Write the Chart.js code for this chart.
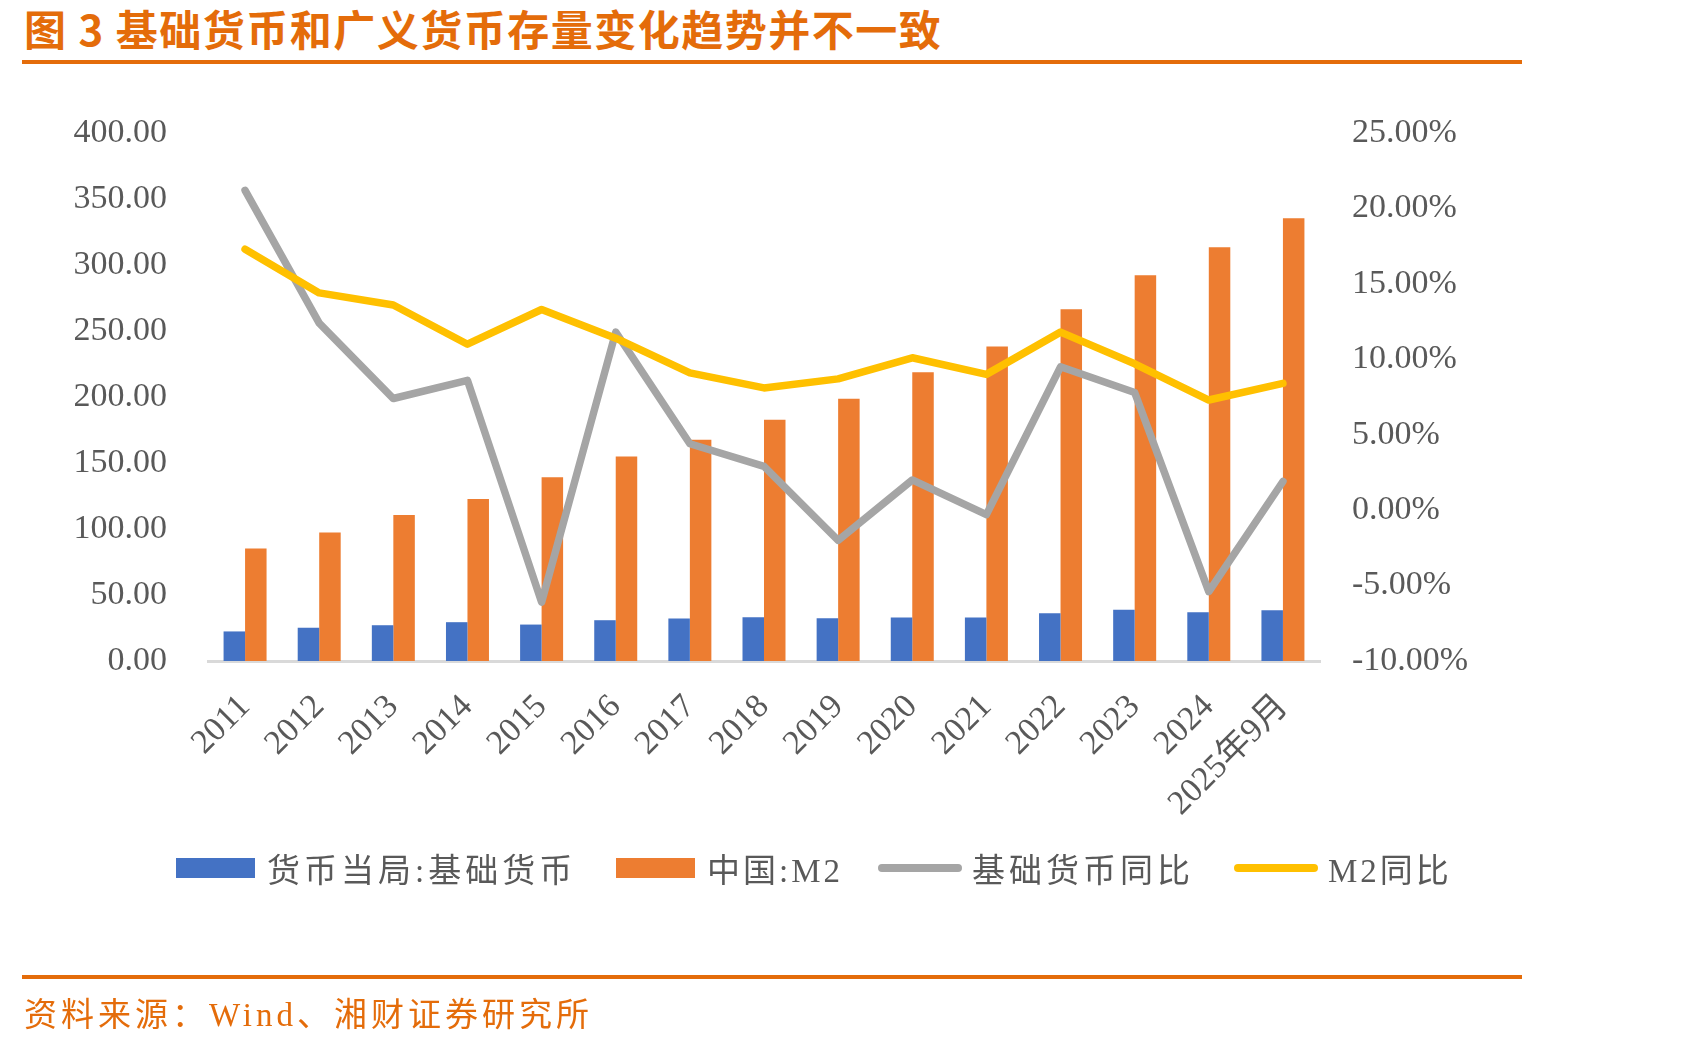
<!DOCTYPE html>
<html>
<head>
<meta charset="utf-8">
<script src="https://cdn.jsdelivr.net/npm/chart.js@4.4.1/dist/chart.umd.min.js"></script>
<style>
  html, body { margin:0; padding:0; background:#fff; }
  body { width:1689px; height:1043px; position:relative; overflow:hidden; font-family:"Liberation Serif","Noto Sans CJK SC",serif; }
  #title { position:absolute; left:24px; top:-3px; font-family:"Noto Sans CJK SC",sans-serif; font-weight:700; font-size:42px; letter-spacing:1.5px; color:#E46C0A; white-space:nowrap; }
  .rule { position:absolute; left:22px; width:1500px; height:4px; background:#E46C0A; }
  #source { position:absolute; left:24px; top:988px; font-family:"Liberation Serif","Noto Sans CJK SC",serif; font-size:33px; letter-spacing:4px; color:#E46C0A; white-space:nowrap; }
  #wrap { position:absolute; left:0; top:0; width:1689px; height:1043px; }
  .leg { position:absolute; top:851px; height:34px; display:flex; align-items:center; font-family:"Liberation Serif","Noto Sans CJK SC",serif; font-size:33px; letter-spacing:4px; color:#595959; white-space:nowrap; }
  .box { width:79px; height:20px; margin-right:12px; }
  .ln { width:84px; height:8px; border-radius:4px; margin-right:10px; }
</style>
</head>
<body>
<div id="title">图 3 基础货币和广义货币存量变化趋势并不一致</div>
<div class="rule" style="top:60px"></div>
<div id="wrap"><canvas id="c" width="1689" height="1043"></canvas></div>
<div class="leg" style="left:176px"><div class="box" style="background:#4472C4"></div><span id="l1">货币当局:基础货币</span></div>
<div class="leg" style="left:616px"><div class="box" style="background:#ED7D31"></div><span id="l2" style="letter-spacing:3px">中国:M2</span></div>
<div class="leg" style="left:878px"><div class="ln" style="background:#A5A5A5"></div><span id="l3">基础货币同比</span></div>
<div class="leg" style="left:1234px"><div class="ln" style="background:#FFC000"></div><span id="l4" style="letter-spacing:3px">M2同比</span></div>
<div class="rule" style="top:975px"></div>
<div id="source">资料来源：Wind、湘财证券研究所</div>
<script>
const categories = ["2011","2012","2013","2014","2015","2016","2017","2018","2019","2020","2021","2022","2023","2024","2025年9月"];
const baseMoney = [22.4, 25.2, 27.1, 29.4, 27.6, 30.9, 32.2, 33.1, 32.4, 33.0, 33.0, 36.1, 38.9, 37.0, 38.5];
const m2 = [85.2, 97.4, 110.7, 122.8, 139.2, 155.0, 167.7, 182.7, 198.6, 218.7, 238.3, 266.4, 292.3, 313.5, 335.4];
const baseMoneyYoY = [21.2, 12.4, 7.4, 8.6, -6.1, 11.8, 4.4, 2.9, -2.0, 2.0, -0.3, 9.5, 7.8, -5.4, 1.9];
const m2YoY = [17.3, 14.4, 13.6, 11.0, 13.3, 11.4, 9.1, 8.1, 8.7, 10.1, 9.0, 11.8, 9.7, 7.3, 8.4];
const leftTicks = [0, 400, 50];
const rightTicks = [-10, 25, 5];

const tickFont = { family: "'Liberation Serif','Noto Sans CJK SC',serif", size: 34 };
new Chart(document.getElementById('c'), {
  data: {
    labels: categories,
    datasets: [
      { type:'bar', label:'货币当局:基础货币', data: baseMoney, backgroundColor:'#4472C4', yAxisID:'y', order:2, categoryPercentage:0.58, barPercentage:1.0 },
      { type:'bar', label:'中国:M2', data: m2, backgroundColor:'#ED7D31', yAxisID:'y', order:2, categoryPercentage:0.58, barPercentage:1.0 },
      { type:'line', label:'基础货币同比', data: baseMoneyYoY, borderColor:'#A5A5A5', backgroundColor:'#A5A5A5', borderWidth:7.5, pointRadius:0, tension:0, borderCapStyle:'round', borderJoinStyle:'round', yAxisID:'y1', order:1 },
      { type:'line', label:'M2同比', data: m2YoY, borderColor:'#FFC000', backgroundColor:'#FFC000', borderWidth:7.5, pointRadius:0, tension:0, borderCapStyle:'round', borderJoinStyle:'round', yAxisID:'y1', order:0 }
    ]
  },
  options: {
    responsive:false, animation:false,
    layout: { padding: { top:133, left:0, right:0, bottom:0 } },
    plugins: { legend:{ display:false }, tooltip:{ enabled:false } },
    scales: {
      x: {
        grid: { display:false, drawTicks:false },
        border: { display:true, color:'#D9D9D9', width:3 },
        ticks: { color:'#595959', font: tickFont, minRotation:45, maxRotation:45, padding:26, autoSkip:false },
        afterFit: s => { s.height = 382; }
      },
      y: {
        position:'left', min:leftTicks[0], max:leftTicks[1],
        grid: { display:false, drawTicks:false }, border: { display:false },
        ticks: { stepSize:leftTicks[2], color:'#595959', font: tickFont, padding:41, callback: v => v.toFixed(2) },
        afterFit: s => { s.width = 208; }
      },
      y1: {
        position:'right', min:rightTicks[0], max:rightTicks[1],
        grid: { display:false, drawTicks:false }, border: { display:false },
        ticks: { stepSize:rightTicks[2], color:'#595959', font: tickFont, padding:32, callback: v => v.toFixed(2) + '%' },
        afterFit: s => { s.width = 369; }
      }
    }
  }
});
</script>
</body>
</html>
